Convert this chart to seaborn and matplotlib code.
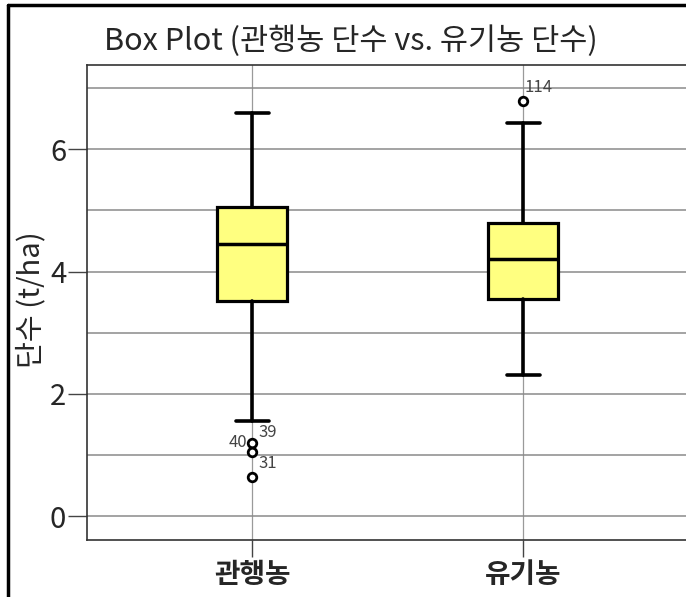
import matplotlib
matplotlib.use("Agg")
import matplotlib.pyplot as plt
from matplotlib.lines import Line2D
from matplotlib.ticker import MultipleLocator, FixedLocator
import seaborn as sns

# ── Data ──────────────────────────────────────────────────────────────────────
groups       = ['관행농', '유기농']
whisker_low  = [1.56, 2.31]
q1           = [3.52, 3.55]
median       = [4.45, 4.21]
q3           = [5.06, 4.80]
whisker_high = [6.60, 6.43]

outlier_group = ['관행농', '관행농', '관행농', '유기농']
outlier_value = [1.19, 1.05, 0.64, 6.79]
outlier_id    = ['39', '40', '31', '114']

# label placement (pixel offsets from the point, horizontal alignment)
label_pos = {'39': (6, 6, 'left'), '40': (-5, 5, 'right'),
             '31': (6, 9, 'left'), '114': (1, 9, 'left')}

# ── Style ─────────────────────────────────────────────────────────────────────
sns.set_style("white")
plt.rcParams['font.family'] = ['Noto Sans CJK KR', 'DejaVu Sans']

fig = plt.figure(figsize=(6.86, 5.97), dpi=100)
ax = fig.add_axes([87/686, 57/597, 613/686, 475/597])

stats = []
for i, g in enumerate(groups):
    stats.append({'label': g, 'whislo': whisker_low[i], 'q1': q1[i],
                  'med': median[i], 'q3': q3[i], 'whishi': whisker_high[i],
                  'fliers': []})

ax.bxp(stats, positions=range(len(groups)), widths=0.255, capwidths=0.122,
       patch_artist=True, showfliers=False,
       boxprops=dict(facecolor='#FFFF80', edgecolor='black', linewidth=2.3),
       medianprops=dict(color='black', linewidth=2.5),
       whiskerprops=dict(color='black', linewidth=2.6),
       capprops=dict(color='black', linewidth=2.6), zorder=3)

ox = [groups.index(g) for g in outlier_group]
sns.scatterplot(x=ox, y=outlier_value, ax=ax, s=38, marker='o',
                facecolor='white', edgecolor='black', linewidth=2.0, zorder=4)

for x, y, lab in zip(ox, outlier_value, outlier_id):
    dx, dy, ha = label_pos[lab]
    ax.annotate(lab, (x, y), xytext=(dx, dy), textcoords='offset pixels',
                ha=ha, va='baseline', fontsize=12, color='#444444', zorder=5)

# ── Axes ──────────────────────────────────────────────────────────────────────
ax.set_xlim(-0.609, 1.653)
ax.set_ylim(-0.39, 7.38)
ax.yaxis.set_major_locator(MultipleLocator(2))
ax.yaxis.set_minor_locator(MultipleLocator(1))
ax.xaxis.set_major_locator(FixedLocator(range(len(groups))))
ax.set_xticklabels(groups, fontsize=20, fontweight='bold')
for t in ax.get_yticklabels():
    t.set_fontsize(21)

ax.grid(which='both', axis='y', color='#8a8a8a', linewidth=1.1, zorder=0)
ax.grid(which='major', axis='x', color='#9a9a9a', linewidth=0.9, zorder=0)
ax.set_axisbelow(True)
ax.tick_params(axis='y', which='major', direction='out', length=14, width=1,
               color='#444444', pad=1, left=True)
ax.tick_params(axis='y', which='minor', length=0)
ax.tick_params(axis='x', direction='out', length=12, width=1,
               color='#444444', pad=3, bottom=True)
for side in ['left', 'bottom', 'top']:
    ax.spines[side].set_color('#333333')
    ax.spines[side].set_linewidth(1.2)
ax.set_xlabel('')
ax.set_ylabel('')

fig.text(31/686, 1 - 300/597, '단수 (t/ha)', rotation=90, ha='center',
         va='center', fontsize=21)
fig.text(351/686, 1 - 50/597, 'Box Plot (관행농 단수 vs. 유기농 단수)',
         ha='center', va='baseline', fontsize=22)

# outer frame (left and top edges of the cropped panel)
fig.add_artist(Line2D([8/686, 8/686], [0, 1 - 5/597], transform=fig.transFigure,
                      color='black', linewidth=2.5))
fig.add_artist(Line2D([8/686, 1], [1 - 5/597, 1 - 5/597], transform=fig.transFigure,
                      color='black', linewidth=2.5))

fig.savefig('out.png', dpi=100)
